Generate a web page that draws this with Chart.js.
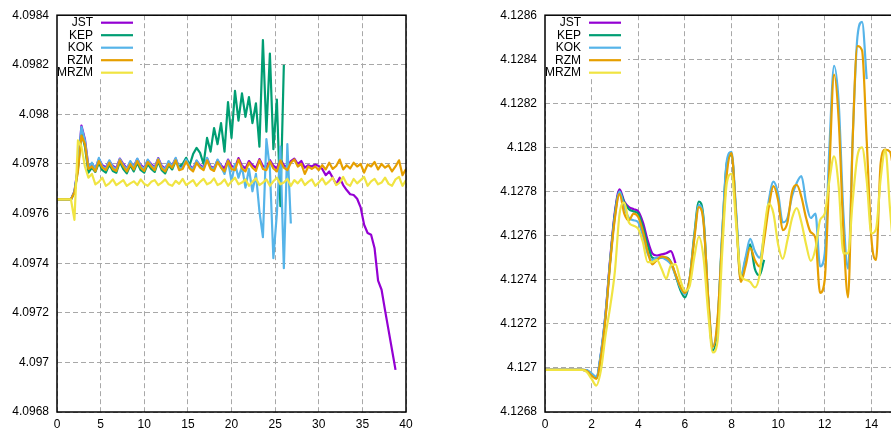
<!DOCTYPE html>
<html>
<head>
<meta charset="utf-8">
<script src="https://cdn.jsdelivr.net/npm/chart.js@4/dist/chart.umd.min.js"></script>
<style>
  html, body { margin: 0; padding: 0; width: 891px; height: 434px; overflow: hidden; background: #fff; }
  #left { position: absolute; left: 0; top: 0; }
  #right { position: absolute; left: 460px; top: 0; }
</style>
</head>
<body>
<canvas id="left" width="440" height="434"></canvas>
<canvas id="right" width="480" height="434"></canvas>
<script>
// Series names and line colours (shared by both panels)
const seriesNames = ['JST', 'KEP', 'KOK', 'RZM', 'MRZM'];
const seriesColors = ['#9400d3', '#009e73', '#56b4e9', '#e69f00', '#f0e442'];

// Tick values
const leftXTicks = [0, 5, 10, 15, 20, 25, 30, 35, 40];
const leftYTicks = [4.0968, 4.097, 4.0972, 4.0974, 4.0976, 4.0978, 4.098, 4.0982, 4.0984];
const rightXTicks = [0, 2, 4, 6, 8, 10, 12, 14, 16];
const rightYTicks = [4.1268, 4.127, 4.1272, 4.1274, 4.1276, 4.1278, 4.128, 4.1282, 4.1284, 4.1286];

// Sampling interval of the series along x
const leftStep = 0.4;
const rightStep = 0.2;

// Left panel series
const leftJST = [
  4.097657,4.097657,4.097657,4.097657,4.097657,4.09769,4.09779,4.097955,4.0979,4.09779,
  4.0978,4.097782,4.09782,4.097795,4.097786,4.097812,4.097792,4.097783,4.097822,4.0978,
  4.097782,4.097808,4.09779,4.09782,4.097795,4.097784,4.097815,4.0978,4.097786,4.097824,
  4.097792,4.097782,4.097808,4.097795,4.097822,4.097786,4.09779,4.097818,4.097793,4.097782,
  4.097812,4.097795,4.097786,4.097822,4.09779,4.097784,4.097815,4.097795,4.097782,4.097818,
  4.097792,4.097786,4.097824,4.097793,4.097782,4.097812,4.097795,4.097784,4.09782,4.097792,
  4.097786,4.097816,4.097793,4.097782,4.09782,4.097795,4.097786,4.097812,4.097822,4.0978,
  4.097812,4.097785,4.097795,4.09779,4.097798,4.097792,4.09778,4.097755,4.09777,4.097745,
  4.097718,4.097745,4.097715,4.097695,4.097678,4.097675,4.09766,4.097625,4.097555,4.097522,
  4.097515,4.09746,4.09733,4.097293,4.09721,4.09713,4.09705,4.09697
];
const leftKEP = [
  4.097657,4.097657,4.097657,4.097657,4.097657,4.097685,4.09778,4.09793,4.09787,4.097765,
  4.097785,4.097768,4.097805,4.097775,4.097765,4.097798,4.097772,4.097765,4.097808,4.09778,
  4.097762,4.097795,4.09777,4.097805,4.097775,4.097765,4.0978,4.09778,4.097768,4.09781,
  4.097775,4.097762,4.097795,4.097778,4.097812,4.09779,4.0978,4.097825,4.097795,4.09784,
  4.097865,4.097845,4.0978,4.097905,4.09785,4.097945,4.09788,4.097965,4.09785,4.09805,
  4.097905,4.098095,4.097975,4.098085,4.09799,4.09807,4.097965,4.098045,4.09787,4.0983,
  4.09793,4.098245,4.09786,4.09806,4.09763,4.0982
];
const leftKOK = [
  4.097657,4.097657,4.097657,4.097657,4.097657,4.097688,4.097785,4.09795,4.097895,4.097785,
  4.097805,4.097778,4.097825,4.09779,4.09778,4.097815,4.097788,4.097778,4.09782,4.097795,
  4.097778,4.097812,4.097786,4.097822,4.09779,4.09778,4.097818,4.097795,4.097782,4.097822,
  4.097788,4.097778,4.097812,4.09779,4.097825,4.097782,4.097786,4.097818,4.09779,4.097778,
  4.097815,4.09779,4.097782,4.097825,4.097786,4.09778,4.097818,4.09779,4.09776,4.097815,
  4.09773,4.0978,4.097745,4.09779,4.097705,4.09778,4.09769,4.09776,4.09761,4.097505,
  4.0979,4.09778,4.09742,4.0976,4.09787,4.09738,4.09788,4.09756
];
const leftRZM = [
  4.097657,4.097657,4.097657,4.097657,4.097657,4.097685,4.09777,4.097915,4.09788,4.09778,
  4.09779,4.09777,4.097812,4.097785,4.097775,4.097805,4.09778,4.097772,4.097815,4.09779,
  4.09777,4.0978,4.097778,4.097812,4.097785,4.097772,4.097808,4.09779,4.097775,4.097818,
  4.097782,4.09777,4.0978,4.097785,4.097815,4.097775,4.09778,4.09781,4.097782,4.09777,
  4.097805,4.097785,4.097775,4.097815,4.09778,4.097772,4.097808,4.097785,4.09777,4.097812,
  4.09778,4.097775,4.097818,4.097782,4.09777,4.097805,4.097785,4.097772,4.097815,4.09778,
  4.097775,4.09781,4.097782,4.09777,4.097815,4.097785,4.097775,4.097805,4.097818,4.09779,
  4.0978,4.09776,4.09779,4.09778,4.09779,4.097775,4.097795,4.097778,4.097805,4.09778,
  4.097792,4.097818,4.097778,4.097795,4.097782,4.097805,4.09779,4.0978,4.097765,4.097798,
  4.09779,4.097808,4.097778,4.0978,4.097785,4.097795,4.09777,4.09779,4.097815,4.097755,4.09778
];
const leftMRZM = [
  4.097657,4.097657,4.097657,4.097657,4.097657,4.097575,4.097895,4.09787,4.09779,4.097745,
  4.09776,4.097718,4.097728,4.097745,4.097712,4.097722,4.097738,4.097715,4.097725,4.097735,
  4.097712,4.097722,4.09773,4.097715,4.097738,4.09772,4.097712,4.097728,4.097735,4.097715,
  4.097725,4.097738,4.097718,4.097712,4.097732,4.09772,4.09774,4.097715,4.097725,4.097735,
  4.097712,4.097728,4.09774,4.097718,4.097725,4.097742,4.097715,4.097722,4.097738,4.097712,
  4.09773,4.097745,4.097718,4.097725,4.097738,4.097712,4.097728,4.097742,4.097715,4.097725,
  4.097738,4.097712,4.09773,4.097745,4.097718,4.097725,4.09774,4.097712,4.097735,4.097722,
  4.09774,4.097715,4.097728,4.097738,4.097712,4.097725,4.097742,4.097718,4.09773,4.097745,
  4.097715,4.097725,4.097748,4.09772,4.097712,4.09774,4.097722,4.097735,4.097748,4.097712,
  4.09773,4.09774,4.097718,4.097725,4.097745,4.09772,4.097712,4.097738,4.097748,4.097712,4.097735
];

// Right panel series
const rightJST = [
  4.126991,4.126991,4.126991,4.126991,4.126991,4.126991,4.126991,4.126991,4.126991,
  4.126988,4.12697,4.126955,4.127065,4.12725,4.1275,4.12771,4.12781,4.127755,4.12773,
  4.12772,4.12771,4.12766,4.12758,4.12752,4.12751,4.127515,4.12752,4.12753,4.127475
];
const rightKEP = [
  4.126991,4.126991,4.126991,4.126991,4.126991,4.126991,4.126991,4.126991,4.126991,
  4.126988,4.12697,4.126955,4.12706,4.12724,4.12749,4.1277,4.1278,4.12775,4.12772,
  4.12771,4.1277,4.12764,4.12756,4.1275,4.127495,4.1275,4.1275,4.12748,4.12742,
  4.127355,4.12732,4.1274,4.1276,4.127755,4.12768,4.12731,4.12708,4.12719,4.1276,
  4.12793,4.127965,4.12769,4.1274,4.12749,4.12756,4.12745,4.12742,4.12749
];
const rightKOK = [
  4.126991,4.126991,4.126991,4.126991,4.126991,4.126991,4.126991,4.126991,4.126991,
  4.12699,4.126975,4.12696,4.12707,4.12725,4.12749,4.12769,4.1278,4.12773,4.12768,
  4.12767,4.12766,4.1276,4.12752,4.12749,4.1275,4.1275,4.12749,4.12747,4.12742,
  4.127365,4.127335,4.1274,4.12759,4.12774,4.12767,4.12732,4.1271,4.12721,4.12761,
  4.12794,4.12798,4.12771,4.12742,4.1275,4.127585,4.12753,4.1275,4.1276,4.12776,
  4.127845,4.12779,4.12766,4.12768,4.12778,4.12784,4.12787,4.12775,4.12768,4.1277,
  4.12746,4.12752,4.128,4.12837,4.1282,4.1277,4.12745,4.12805,4.1285,4.12857,
  4.12831
];
const rightRZM = [
  4.126991,4.126991,4.126991,4.126991,4.126991,4.126991,4.126991,4.126991,4.126991,
  4.126985,4.126965,4.12695,4.12705,4.12723,4.12748,4.12768,4.12779,4.1277,4.12767,
  4.1277,4.127685,4.12762,4.12753,4.12747,4.12749,4.127505,4.1275,4.12748,4.127425,
  4.12737,4.12734,4.1274,4.12758,4.12773,4.12766,4.12732,4.127095,4.12722,4.12758,
  4.12788,4.127975,4.12768,4.12739,4.12746,4.127545,4.12749,4.12746,4.12758,4.12773,
  4.127825,4.12776,4.127625,4.12766,4.1278,4.12783,4.127775,4.12768,4.127615,4.12759,
  4.12734,4.1274,4.1279,4.12833,4.12812,4.12762,4.12732,4.12804,4.12846,4.12844,
  4.12803,4.12759,4.12749,4.12793,4.12799,4.12798,4.12785,4.1277
];
const rightMRZM = [
  4.126991,4.126991,4.126991,4.126991,4.126991,4.126991,4.126991,4.126991,4.126991,
  4.12698,4.12695,4.12692,4.12699,4.12715,4.12728,4.12744,4.1277,4.12775,4.12766,
  4.127645,4.12763,4.12757,4.12748,4.12748,4.12749,4.12745,4.127405,4.127465,4.12747,
  4.1274,4.12735,4.12737,4.1275,4.127595,4.1275,4.12725,4.12707,4.12712,4.12752,
  4.12784,4.12788,4.12765,4.12742,4.1274,4.12739,4.127365,4.12742,4.12762,4.127745,
  4.1277,4.12756,4.127495,4.12758,4.12768,4.127725,4.12766,4.12756,4.127485,4.12754,
  4.12767,4.1277,4.12785,4.12796,4.12782,4.12752,4.12752,4.12776,4.12796,4.128,
  4.12785,4.12761,4.12763,4.12786,4.12799,4.12772,4.1275,4.12745
];

Chart.defaults.font.family = '"Liberation Sans", Arial, Helvetica, sans-serif';
Chart.defaults.font.size = 12;
Chart.defaults.color = '#000';

// White key box with right-aligned names and line samples, plus the black plot frame
const keyAndFrame = {
  id: 'keyAndFrame',
  afterDatasetsDraw(chart) {
    const { ctx, chartArea: a } = chart;
    ctx.save();
    ctx.fillStyle = '#fff';
    ctx.fillRect(a.left, a.top, 83, 63);
    ctx.font = '12px "Liberation Sans", Arial, sans-serif';
    ctx.textAlign = 'right';
    ctx.textBaseline = 'middle';
    seriesNames.forEach((name, i) => {
      const y = a.top + 7.5 + i * 12.5;
      ctx.fillStyle = '#000';
      ctx.fillText(name, a.left + 36, y);
      ctx.strokeStyle = seriesColors[i];
      ctx.lineWidth = 2.2;
      ctx.beginPath();
      ctx.moveTo(a.left + 44, y);
      ctx.lineTo(a.left + 76, y);
      ctx.stroke();
    });
    ctx.strokeStyle = '#000';
    ctx.lineWidth = 1.5;
    ctx.strokeRect(a.left, a.top, a.right - a.left, a.bottom - a.top);
    ctx.restore();
  }
};

function makePanel(canvasId, step, series, xTicks, yTicks, yAxisWidth, padRight, smooth) {
  const datasets = series.map((vals, k) => ({
    label: seriesNames[k],
    data: vals.map((v, i) => ({ x: Math.round(i * step * 10) / 10, y: v })),
    borderColor: seriesColors[k],
    borderWidth: 2.2,
    borderJoinStyle: 'round',
    pointRadius: 0,
    fill: false,
    order: 5 - k,
    tension: smooth ? 0.4 : 0,
    cubicInterpolationMode: smooth ? 'monotone' : 'default'
  }));
  const axisGrid = { color: '#a8a8a8', lineWidth: 1, drawTicks: false };
  return new Chart(document.getElementById(canvasId), {
    type: 'line',
    data: { datasets },
    options: {
      responsive: false,
      animation: false,
      devicePixelRatio: 1,
      layout: { padding: { top: 10, right: padRight, left: 0, bottom: 0 } },
      plugins: { legend: { display: false }, tooltip: { enabled: false } },
      scales: {
        x: {
          type: 'linear',
          min: xTicks[0],
          max: xTicks[xTicks.length - 1],
          afterBuildTicks: s => { s.ticks = xTicks.map(v => ({ value: v })); },
          afterFit: s => { s.height = 22; },
          ticks: { padding: 5, autoSkip: false, maxRotation: 0, callback: v => String(v) },
          grid: axisGrid,
          border: { display: false, dash: [5, 3] }
        },
        y: {
          type: 'linear',
          min: yTicks[0],
          max: yTicks[yTicks.length - 1],
          afterBuildTicks: s => { s.ticks = yTicks.map(v => ({ value: v })); },
          afterFit: s => { s.width = yAxisWidth; },
          ticks: { padding: 8, autoSkip: false, callback: v => String(v) },
          grid: axisGrid,
          border: { display: false, dash: [5, 3] }
        }
      }
    },
    plugins: [keyAndFrame]
  });
}

makePanel('left', leftStep, [leftJST, leftKEP, leftKOK, leftRZM, leftMRZM],
  leftXTicks, leftYTicks, 57, 34, false);
makePanel('right', rightStep, [rightJST, rightKEP, rightKOK, rightRZM, rightMRZM],
  rightXTicks, rightYTicks, 85, 22, true);
</script>
</body>
</html>
